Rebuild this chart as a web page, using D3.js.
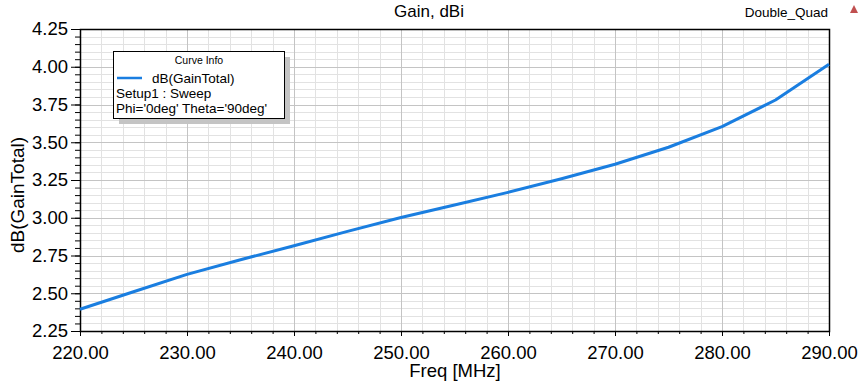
<!DOCTYPE html>
<html>
<head>
<meta charset="utf-8">
<script src="https://cdn.jsdelivr.net/npm/d3@7"></script>
<style>
body { margin: 0; background: #fff; }
text { font-family: "Liberation Sans", Arial, sans-serif; fill: #000; }
</style>
</head>
<body>
<svg width="867" height="381"></svg>
<script>
// sweep frequencies (MHz) and gain (dB)
var freqs = [220, 225, 230, 235, 240, 245, 250, 255, 260, 265, 270, 275, 280, 285, 290];
var gains = [2.394, 2.51, 2.625, 2.722, 2.815, 2.91, 3.002, 3.085, 3.168, 3.258, 3.354, 3.467, 3.603, 3.78, 4.016];
var xTicks = [220, 230, 240, 250, 260, 270, 280, 290];
var yTicks = [2.25, 2.50, 2.75, 3.00, 3.25, 3.50, 3.75, 4.00, 4.25];
var legendLines = ["dB(GainTotal)", "Setup1 : Sweep", "Phi='0deg' Theta='90deg'"];

var data = freqs.map(function(f, i) { return { f: f, v: gains[i] }; });

var margin = { top: 29, right: 38, bottom: 50, left: 80 };
var width = 867 - margin.left - margin.right;
var height = 381 - margin.top - margin.bottom;

var svg = d3.select("svg");
var g = svg.append("g")
           .attr("transform", "translate(" + margin.left + "," + margin.top + ")");

var x = d3.scaleLinear().domain([220, 290]).range([0, width]);
var y = d3.scaleLinear().domain([2.25, 4.25]).range([height, 0]);

// minor grid
g.append("g")
 .selectAll("line")
 .data(d3.range(220, 290.01, 2))
 .enter().append("line")
 .attr("x1", function(d) { return Math.round(x(d)) + 0.5; })
 .attr("x2", function(d) { return Math.round(x(d)) + 0.5; })
 .attr("y1", 0).attr("y2", height)
 .attr("stroke", "#e2e2e2");
g.append("g")
 .selectAll("line")
 .data(d3.range(2.25, 4.2501, 0.05))
 .enter().append("line")
 .attr("y1", function(d) { return Math.round(y(d)) + 0.5; })
 .attr("y2", function(d) { return Math.round(y(d)) + 0.5; })
 .attr("x1", 0).attr("x2", width)
 .attr("stroke", "#e2e2e2");

// major grid
g.append("g")
 .selectAll("line")
 .data(xTicks)
 .enter().append("line")
 .attr("x1", function(d) { return Math.round(x(d)) + 0.5; })
 .attr("x2", function(d) { return Math.round(x(d)) + 0.5; })
 .attr("y1", 0).attr("y2", height)
 .attr("stroke", "#c4c4c4");
g.append("g")
 .selectAll("line")
 .data(yTicks)
 .enter().append("line")
 .attr("y1", function(d) { return Math.round(y(d)) + 0.5; })
 .attr("y2", function(d) { return Math.round(y(d)) + 0.5; })
 .attr("x1", 0).attr("x2", width)
 .attr("stroke", "#c4c4c4");

// minor ticks
g.append("g")
 .attr("transform", "translate(0," + height + ")")
 .call(d3.axisBottom(x).tickValues(d3.range(220, 290.01, 2)).tickSize(3).tickFormat(""))
 .call(function(s) { s.select(".domain").remove(); });
g.append("g")
 .call(d3.axisLeft(y).tickValues(d3.range(2.25, 4.2501, 0.05)).tickSize(5).tickFormat(""))
 .call(function(s) { s.select(".domain").remove(); });

// major axes
var xAxis = g.append("g")
 .attr("transform", "translate(0," + height + ")")
 .call(d3.axisBottom(x).tickValues(xTicks).tickSize(5).tickPadding(6).tickFormat(d3.format(".2f")));
xAxis.select(".domain").remove();
xAxis.selectAll("text").attr("font-size", 18.5).attr("dy", "0.9em");

var yAxis = g.append("g")
 .call(d3.axisLeft(y).tickValues(yTicks).tickSize(9).tickPadding(3).tickFormat(d3.format(".2f")));
yAxis.select(".domain").remove();
yAxis.selectAll("text").attr("font-size", 18.5);

// frame
g.append("rect")
 .attr("x", 0.5).attr("y", 0.5)
 .attr("width", width).attr("height", height)
 .attr("fill", "none")
 .attr("stroke", "#000")
 .attr("stroke-width", 1.5);

// curve
var line = d3.line()
             .x(function(d) { return x(d.f); })
             .y(function(d) { return y(d.v); });

g.append("path")
 .datum(data)
 .attr("fill", "none")
 .attr("stroke", "#1a7ee0")
 .attr("stroke-width", 3)
 .attr("stroke-linejoin", "round")
 .attr("d", line);

// titles
svg.append("text")
   .attr("x", 429).attr("y", 17)
   .attr("text-anchor", "middle")
   .attr("font-size", 17)
   .text("Gain, dBi");

svg.append("text")
   .attr("x", 828).attr("y", 17)
   .attr("text-anchor", "end")
   .attr("font-size", 13.5)
   .text("Double_Quad");

svg.append("path")
   .attr("d", "M850,13 L854,5 L858,13 Z")
   .attr("fill", "#c05050");

svg.append("text")
   .attr("x", 455).attr("y", 377)
   .attr("text-anchor", "middle")
   .attr("font-size", 18.5)
   .text("Freq [MHz]");

svg.append("text")
   .attr("transform", "translate(24,195) rotate(-90)")
   .attr("text-anchor", "middle")
   .attr("font-size", 19)
   .text("dB(GainTotal)");

// legend box
var lg = svg.append("g").attr("transform", "translate(113,51)");
lg.append("rect")
  .attr("x", 6).attr("y", 6)
  .attr("width", 171).attr("height", 67)
  .attr("fill", "#c4c4c4");
lg.append("rect")
  .attr("x", 0.5).attr("y", 0.5)
  .attr("width", 171).attr("height", 67)
  .attr("fill", "#fff")
  .attr("stroke", "#000");
lg.append("text")
  .attr("x", 86).attr("y", 13)
  .attr("text-anchor", "middle")
  .attr("font-size", 10.5)
  .text("Curve Info");
lg.append("line")
  .attr("x1", 4).attr("x2", 29)
  .attr("y1", 27).attr("y2", 27)
  .attr("stroke", "#1a7ee0")
  .attr("stroke-width", 2.5);
lg.selectAll("text.item")
  .data(legendLines)
  .enter().append("text")
  .attr("class", "item")
  .attr("x", function(d, i) { return i === 0 ? 39 : 3; })
  .attr("y", function(d, i) { return 32 + i * 15; })
  .attr("font-size", 13.5)
  .text(function(d) { return d; });
</script>
</body>
</html>
